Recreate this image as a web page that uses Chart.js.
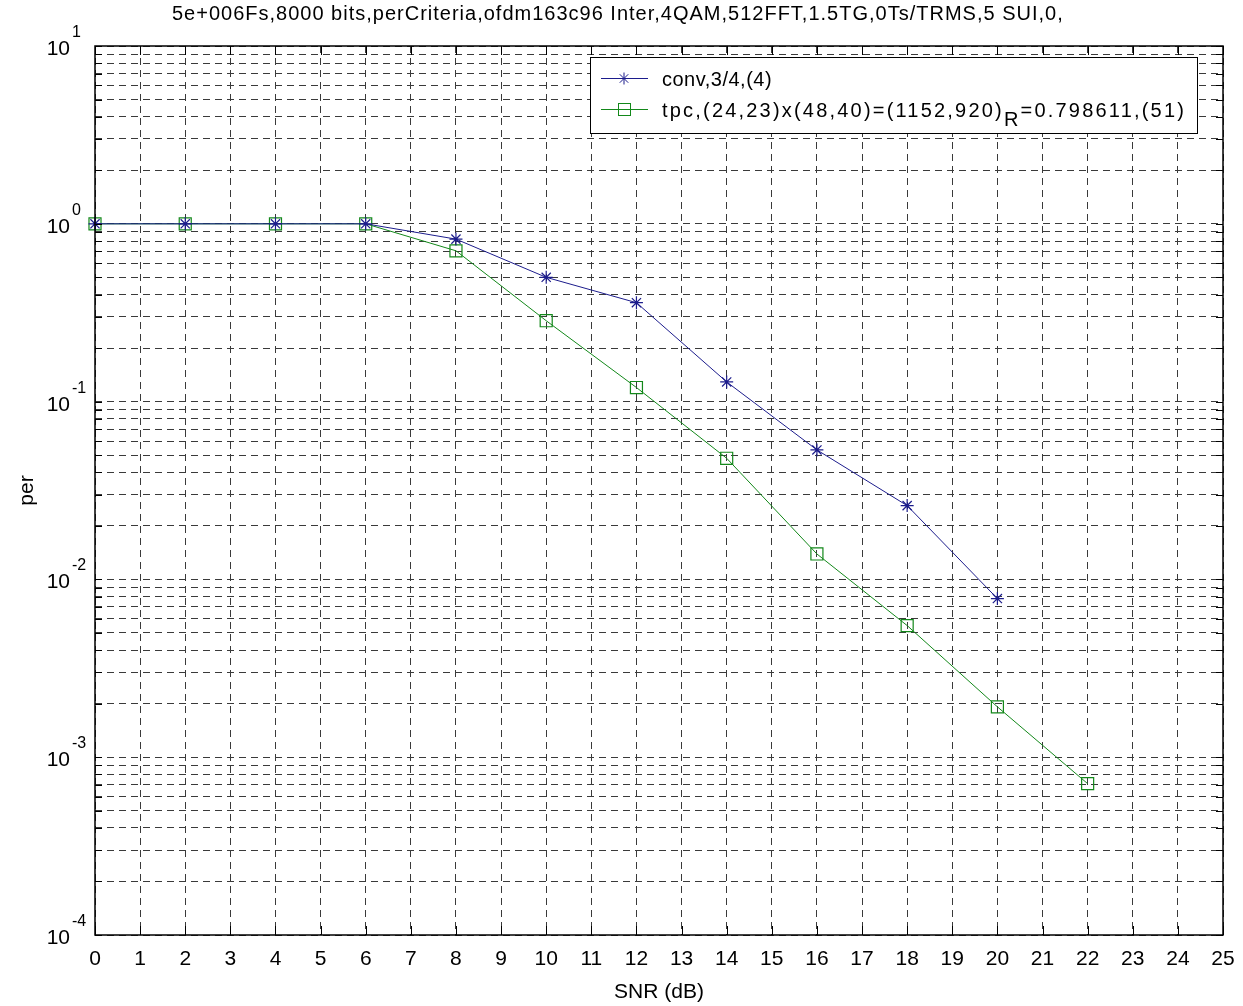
<!DOCTYPE html>
<html>
<head>
<meta charset="utf-8">
<script src="https://cdn.jsdelivr.net/npm/chart.js@4.4.1/dist/chart.umd.min.js"></script>
<style>
  html, body { margin: 0; padding: 0; background: #fff; }
  #wrap { width: 1243px; height: 1006px; }
</style>
</head>
<body>
<div id="wrap"><canvas id="perChart"></canvas></div>
<script>
// values
const snrConv = [0, 2, 4, 6, 8, 10, 12, 14, 16, 18, 20];
const perConv = [1, 1, 1, 1, 0.82, 0.50, 0.36, 0.129, 0.0535, 0.026, 0.0078];
const snrTpc = [0, 2, 4, 6, 8, 10, 12, 14, 16, 18, 20, 22];
const perTpc = [1, 1, 1, 1, 0.705, 0.285, 0.12, 0.048, 0.0139, 0.0055, 0.00192, 0.00071];

const xTickLabels = ["0", "1", "2", "3", "4", "5", "6", "7", "8", "9", "10", "11", "12",
  "13", "14", "15", "16", "17", "18", "19", "20", "21", "22", "23", "24", "25"];
const yDecades = [-4, -3, -2, -1, 0, 1];

const titleText = "5e+006Fs,8000 bits,perCriteria,ofdm163c96 Inter,4QAM,512FFT,1.5TG,0Ts/TRMS,5 SUI,0,";
const xTitle = "SNR (dB)";
const yTitle = "per";
const convLabel = "conv,3/4,(4)";
const tpcLabel = ["tpc,(24,23)x(48,40)=(1152,920)", "R", "=0.798611,(51)"];

const blue = "#1c1c8c";
const green = "#13881a";
const fontName = '"Liberation Sans", Arial, sans-serif';

function toPoints(xs, ys) {
  return xs.map((x, i) => ({ x: x, y: ys[i] }));
}

function logTicks() {
  const vals = [];
  for (let i = 0; i < yDecades.length - 1; i++) {
    for (let m = 1; m <= 9; m++) {
      vals.push(Number((m * Math.pow(10, yDecades[i])).toPrecision(3)));
    }
  }
  vals.push(Math.pow(10, yDecades[yDecades.length - 1]));
  return vals;
}

function drawStar(ctx, x, y, r) {
  ctx.beginPath();
  ctx.moveTo(x - r, y); ctx.lineTo(x + r, y);
  ctx.moveTo(x, y - r); ctx.lineTo(x, y + r);
  const d = r * Math.SQRT1_2;
  ctx.moveTo(x - d, y - d); ctx.lineTo(x + d, y + d);
  ctx.moveTo(x - d, y + d); ctx.lineTo(x + d, y - d);
  ctx.stroke();
}

// MATLAB-like box, inside ticks, tick labels and titles
const matlabAxes = {
  id: "matlabAxes",
  afterDraw(chart) {
    const ctx = chart.ctx;
    const a = chart.chartArea;
    const xs = chart.scales.x;
    const ys = chart.scales.y;
    ctx.save();
    ctx.strokeStyle = "#000";
    ctx.lineWidth = 1;
    ctx.setLineDash([]);

    ctx.beginPath();
    xs.ticks.forEach(t => {
      const px = Math.round(xs.getPixelForValue(t.value)) + 0.5;
      ctx.moveTo(px, a.bottom); ctx.lineTo(px, a.bottom - 9);
      ctx.moveTo(px, a.top); ctx.lineTo(px, a.top + 9);
    });
    ys.ticks.forEach(t => {
      const py = Math.round(ys.getPixelForValue(t.value)) + 0.5;
      ctx.moveTo(a.left, py); ctx.lineTo(a.left + 7, py);
      ctx.moveTo(a.right, py); ctx.lineTo(a.right - 7, py);
    });
    ctx.stroke();

    ctx.lineWidth = 1.5;
    ctx.strokeRect(a.left, a.top, a.right - a.left, a.bottom - a.top);

    ctx.fillStyle = "#000";
    ctx.font = "21px " + fontName;
    ctx.textAlign = "center";
    ctx.textBaseline = "alphabetic";
    xs.ticks.forEach((t, i) => {
      ctx.fillText(xTickLabels[i], xs.getPixelForValue(t.value), a.bottom + 30);
    });

    yDecades.forEach(d => {
      const py = ys.getPixelForValue(Math.pow(10, d));
      ctx.font = "21px " + fontName;
      ctx.textAlign = "right";
      ctx.fillText("10", 70, py + 9);
      ctx.font = "16px " + fontName;
      ctx.textAlign = "left";
      ctx.fillText(String(d), 72, py - 9);
    });

    ctx.font = "21px " + fontName;
    ctx.textAlign = "center";
    ctx.fillText(xTitle, (a.left + a.right) / 2, 998);

    ctx.save();
    ctx.translate(33, (a.top + a.bottom) / 2);
    ctx.rotate(-Math.PI / 2);
    ctx.fillText(yTitle, 0, 0);
    ctx.restore();

    ctx.font = "20px " + fontName;
    ctx.textAlign = "left";
    ctx.letterSpacing = "1px";
    ctx.fillText(titleText, 172, 20, 898);
    ctx.letterSpacing = "0px";
    ctx.restore();
  }
};

const legendBox = {
  id: "legendBox",
  afterDatasetsDraw(chart) {
    const ctx = chart.ctx;
    ctx.save();
    ctx.fillStyle = "#fff";
    ctx.fillRect(590, 57, 607, 76);
    ctx.strokeStyle = "#000";
    ctx.lineWidth = 1;
    ctx.strokeRect(590.5, 57.5, 607, 76);

    ctx.lineWidth = 1;
    ctx.strokeStyle = blue;
    ctx.beginPath(); ctx.moveTo(601, 78.5); ctx.lineTo(648, 78.5); ctx.stroke();
    drawStar(ctx, 624, 78.5, 6);

    ctx.strokeStyle = green;
    ctx.beginPath(); ctx.moveTo(601, 109.5); ctx.lineTo(648, 109.5); ctx.stroke();
    ctx.strokeRect(618.5, 103.5, 12, 12);

    ctx.fillStyle = "#000";
    ctx.font = "20px " + fontName;
    ctx.textAlign = "left";
    ctx.textBaseline = "alphabetic";
    ctx.letterSpacing = "0.5px";
    ctx.fillText(convLabel, 662, 86);
    ctx.letterSpacing = "2.2px";
    let x = 662;
    ctx.fillText(tpcLabel[0], x, 117);
    x += ctx.measureText(tpcLabel[0]).width;
    ctx.fillText(tpcLabel[1], x, 126);
    x += ctx.measureText(tpcLabel[1]).width;
    ctx.fillText(tpcLabel[2], x, 117);
    ctx.letterSpacing = "0px";
    ctx.restore();
  }
};

new Chart(document.getElementById("perChart"), {
  type: "line",
  data: {
    datasets: [
      {
        label: convLabel,
        data: toPoints(snrConv, perConv),
        borderColor: blue,
        backgroundColor: blue,
        borderWidth: 1,
        pointStyle: "star",
        pointRadius: 6.5,
        pointBorderWidth: 1.2,
        pointBorderColor: blue,
        fill: false,
        tension: 0,
        clip: false
      },
      {
        label: tpcLabel.join(""),
        data: toPoints(snrTpc, perTpc),
        borderColor: green,
        backgroundColor: "rgba(0,0,0,0)",
        borderWidth: 1,
        pointStyle: "rect",
        pointRadius: 8.5,
        pointBorderWidth: 1.2,
        pointBorderColor: green,
        fill: false,
        tension: 0,
        clip: false
      }
    ]
  },
  options: {
    responsive: true,
    maintainAspectRatio: false,
    animation: false,
    layout: { padding: { left: 95, right: 20, top: 46, bottom: 71 } },
    plugins: {
      legend: { display: false },
      title: { display: false },
      tooltip: { enabled: false }
    },
    scales: {
      x: {
        type: "linear",
        min: 0,
        max: 25,
        ticks: { display: false, stepSize: 1 },
        grid: { color: "#3a3a3a", lineWidth: 1, drawTicks: false },
        border: { display: false, dash: [7, 5] }
      },
      y: {
        type: "logarithmic",
        min: 1e-4,
        max: 10,
        afterBuildTicks(scale) {
          scale.ticks = logTicks().map(v => ({ value: v }));
        },
        ticks: { display: false },
        grid: { color: "#3a3a3a", lineWidth: 1, drawTicks: false },
        border: { display: false, dash: [7, 5] }
      }
    }
  },
  plugins: [matlabAxes, legendBox]
});
</script>
</body>
</html>
